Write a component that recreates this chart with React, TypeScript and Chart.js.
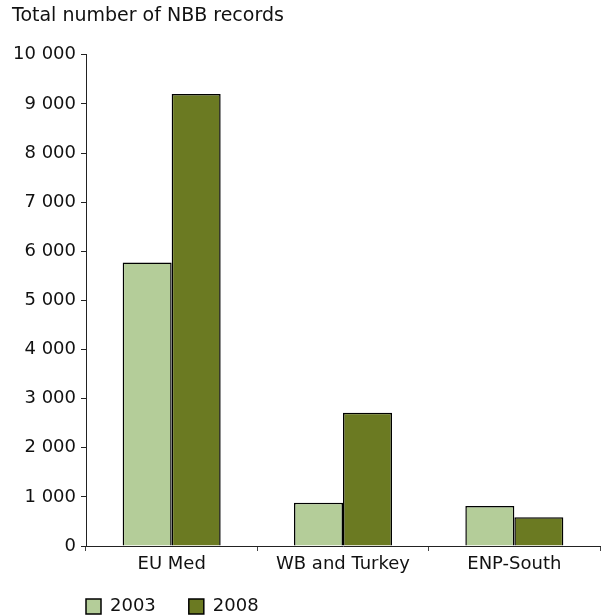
import React, { useEffect, useRef } from "react";
import { Chart, registerables } from "chart.js";

Chart.register(...registerables);

const categories = ["EU Med", "WB and Turkey", "ENP-South"];
const seriesNames = ["2003", "2008"];
const values2003 = [5770, 880, 815];
const values2008 = [9200, 2715, 585];
const yTicksMax = 10000;
const yTickStep = 1000;
const chartTitle = "Total number of NBB records";

const FONT = "Verdana, 'DejaVu Sans', sans-serif";

function fmt(v: number): string {
  return String(v).replace(/\B(?=(\d{3})+(?!\d))/g, " ");
}

const LEGEND_H = 22;

const legendPos = {
  id: "legendPos",
  beforeLayout(chart: any) {
    const lg = chart.legend;
    if (lg && !lg.__patched) {
      const f = lg.fit.bind(lg);
      lg.fit = function () {
        f();
        this.height = LEGEND_H;
      };
      lg.__patched = true;
    }
  },
  afterLayout(chart: any) {
    const lg = chart.legend;
    if (!lg) return;
    const pad = lg.options.labels.padding;
    lg.left = chart.chartArea.left - pad;
    lg.top = 597.5 - pad;
    lg.right = chart.width;
    lg.bottom = chart.height;
    lg.width = lg.right - lg.left;
    lg.height = lg.bottom - lg.top;
  },
};

export default function App() {
  const ref = useRef<HTMLCanvasElement>(null);
  useEffect(() => {
    if (!ref.current) return;
    const chart = new Chart(ref.current, {
      type: "bar",
      data: {
        labels: categories,
        datasets: [
          {
            label: seriesNames[0],
            data: values2003,
            backgroundColor: "#b4cd99",
            borderColor: "#000",
            borderWidth: 1.5,
            categoryPercentage: 0.572,
            barPercentage: 1,
          },
          {
            label: seriesNames[1],
            data: values2008,
            backgroundColor: "#6b7a22",
            borderColor: "#000",
            borderWidth: 1.5,
            categoryPercentage: 0.572,
            barPercentage: 1,
          },
        ],
      },
      plugins: [legendPos],
      options: {
        animation: false,
        responsive: false,
        layout: { padding: { left: 12, right: 3, top: 0, bottom: 0 } },
        plugins: {
          title: {
            display: true,
            text: chartTitle,
            align: "start",
            color: "#111",
            font: { family: FONT, size: 19, weight: "normal" },
            padding: { top: 5, bottom: 27 },
          },
          legend: {
            position: "bottom",
            align: "start",
            labels: {
              boxWidth: 15,
              boxHeight: 15,
              padding: 33,
              color: "#111",
              font: { family: FONT, size: 18 },
            },
          },
          tooltip: { enabled: false },
        },
        scales: {
          x: {
            afterFit: (s: any) => {
              s.height = 616 - LEGEND_H - 546;
            },
            grid: {
              display: true,
              drawOnChartArea: false,
              drawTicks: true,
              tickLength: 5,
              tickColor: "#444",
              offset: true,
            },
            border: { display: true, color: "#222", width: 1 },
            ticks: {
              color: "#111",
              padding: 3,
              font: { family: FONT, size: 18 },
              maxRotation: 0,
              autoSkip: false,
            },
          },
          y: {
            min: 0,
            max: yTicksMax,
            afterFit: (s: any) => {
              s.width = 74;
            },
            grid: {
              display: true,
              drawOnChartArea: false,
              drawTicks: true,
              tickLength: 5,
              tickColor: "#222",
            },
            border: { display: true, color: "#222", width: 1 },
            ticks: {
              stepSize: yTickStep,
              color: "#111",
              padding: 5,
              font: { family: FONT, size: 18 },
              callback: (v: any) => fmt(Number(v)),
            },
          },
        },
      },
    });
    return () => chart.destroy();
  }, []);
  return (
    <div style={{ position: "fixed", left: 0, top: 0, width: 603, height: 616, background: "#fff" }}>
      <canvas ref={ref} width={603} height={616} style={{ display: "block" }} />
    </div>
  );
}
